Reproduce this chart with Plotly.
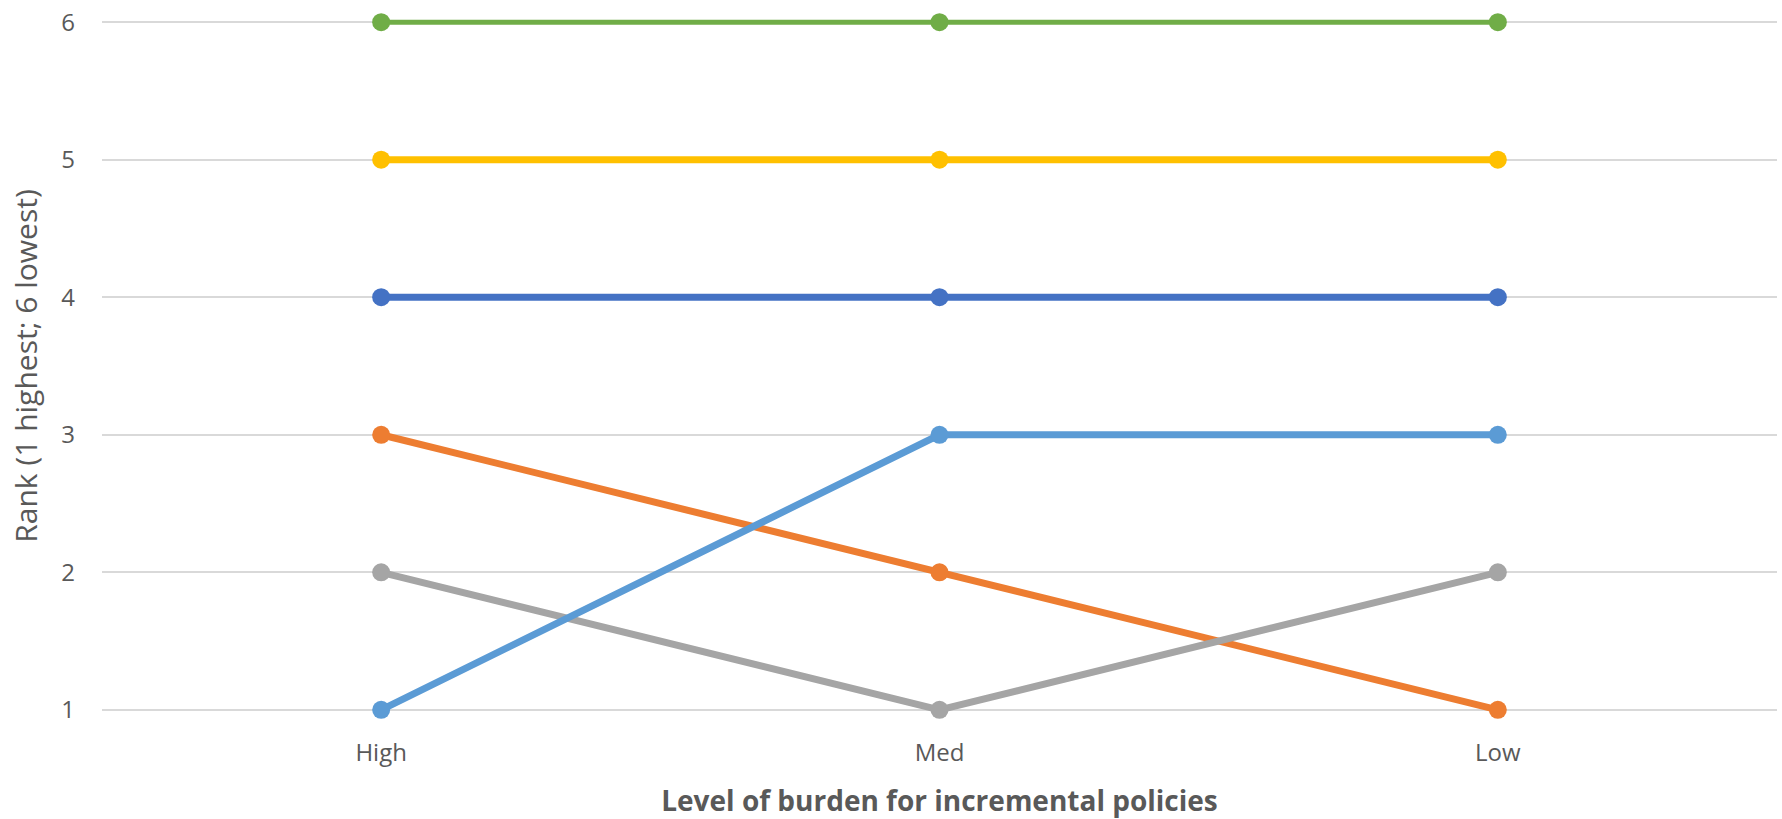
import plotly.graph_objects as go

# Burden levels on the x axis and the rank of each series at each level
categories = ["High", "Med", "Low"]
series_names = ["Series 1", "Series 2", "Series 3", "Series 4", "Series 5", "Series 6"]
series_ranks = [
    [4, 4, 4],
    [3, 2, 1],
    [2, 1, 2],
    [5, 5, 5],
    [1, 3, 3],
    [6, 6, 6],
]
series_colors = ["#4472C4", "#ED7D31", "#A5A5A5", "#FFC000", "#5B9BD5", "#70AD47"]
line_widths = [7, 7, 7, 7, 7, 5]
y_ticks = [1, 2, 3, 4, 5, 6]

font_family = "Open Sans"
text_color = "#595959"

# small padding so the lines on ranks 1 and 6 are not cut by the plot edge
pad = 0.03
px_per_rank = 138.2
pad_px = pad * px_per_rank

fig = go.Figure()
for name, ranks, color, lw in zip(series_names, series_ranks, series_colors, line_widths):
    fig.add_trace(go.Scatter(
        x=categories,
        y=ranks,
        name=name,
        mode="lines+markers",
        line=dict(color=color, width=lw),
        marker=dict(color=color, size=18),
        cliponaxis=False,
        showlegend=False,
    ))

fig.update_layout(
    width=1782,
    height=819,
    margin=dict(l=102, r=5, t=20 - pad_px, b=108 - pad_px),
    paper_bgcolor="white",
    plot_bgcolor="white",
    font=dict(family=font_family, color=text_color, size=24),
    xaxis=dict(
        type="category",
        categoryorder="array",
        categoryarray=categories,
        range=[-0.5, 2.5],
        showgrid=False,
        zeroline=False,
        showline=False,
        ticks="",
        tickfont=dict(size=24, color=text_color),
        ticklabelstandoff=22,
        title=dict(
            text="<b>Level of burden for incremental policies</b>",
            font=dict(size=28, color=text_color),
            standoff=26,
        ),
    ),
    yaxis=dict(
        range=[1 - pad, 6 + pad],
        tickvals=y_ticks,
        showgrid=True,
        gridcolor="#D9D9D9",
        gridwidth=2,
        zeroline=False,
        showline=False,
        ticks="",
        tickfont=dict(size=24, color=text_color),
        ticklabelstandoff=26,
        title=dict(
            text="Rank (1 highest; 6 lowest)",
            font=dict(size=30, color=text_color),
            standoff=14,
        ),
    ),
)

fig.write_html("out.html")
